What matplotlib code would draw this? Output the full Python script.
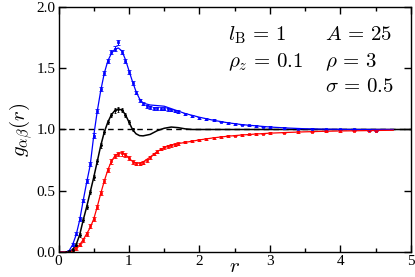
import numpy as np
import matplotlib.pyplot as plt

plt.rcParams['font.family'] = 'Liberation Serif'
plt.rcParams['mathtext.fontset'] = 'cm'

# theory curves (r, g)
r_th = [0.0, 0.1, 0.15, 0.2, 0.25, 0.3, 0.35, 0.4, 0.45, 0.5, 0.55, 0.6, 0.65, 0.7, 0.75,
        0.8, 0.85, 0.9, 0.95, 1.0, 1.05, 1.1, 1.15, 1.2, 1.3, 1.4, 1.5, 1.6, 1.7, 1.8,
        1.9, 2.0, 2.2, 2.4, 2.6, 2.8, 3.0, 3.25, 3.5, 3.75, 4.0, 4.25, 4.5, 4.75]
g_blue = [0.0, 0.0, 0.01, 0.06, 0.14, 0.26, 0.42, 0.57, 0.71, 0.95, 1.15, 1.32, 1.46, 1.56, 1.62,
          1.655, 1.665, 1.64, 1.57, 1.48, 1.39, 1.31, 1.25, 1.215, 1.2, 1.195, 1.19, 1.17, 1.15, 1.13,
          1.115, 1.10, 1.075, 1.055, 1.04, 1.03, 1.02, 1.012, 1.006, 1.003, 1.001, 1.0, 1.0, 1.0]
g_red = [0.0, 0.0, 0.0, 0.01, 0.03, 0.06, 0.10, 0.15, 0.20, 0.27, 0.37, 0.48, 0.58, 0.67, 0.74,
         0.785, 0.805, 0.81, 0.795, 0.765, 0.74, 0.727, 0.725, 0.735, 0.775, 0.82, 0.853, 0.87, 0.885, 0.895,
         0.905, 0.915, 0.932, 0.945, 0.955, 0.963, 0.97, 0.976, 0.981, 0.985, 0.988, 0.99, 0.992, 0.994]
r_blk = [0.0, 0.1, 0.15, 0.2, 0.25, 0.3, 0.35, 0.4, 0.45, 0.5, 0.55, 0.6, 0.65, 0.7, 0.75,
         0.8, 0.85, 0.9, 0.95, 1.0, 1.05, 1.1, 1.15, 1.2, 1.3, 1.4, 1.5, 1.6, 1.7, 1.8,
         1.9, 2.0, 2.5, 3.0, 4.0, 5.0]
g_blk = [0.0, 0.0, 0.005, 0.02, 0.06, 0.14, 0.26, 0.37, 0.49, 0.61, 0.74, 0.87, 0.98, 1.06, 1.12,
         1.155, 1.165, 1.16, 1.12, 1.06, 1.0, 0.965, 0.95, 0.948, 0.96, 0.99, 1.01, 1.02, 1.015, 1.005,
         1.0, 1.0, 1.0, 1.0, 1.0, 1.0]

# simulation points
r_sim = [0.1, 0.15, 0.2, 0.25, 0.3, 0.35, 0.4, 0.45, 0.5, 0.55, 0.6, 0.65, 0.7, 0.75, 0.8,
         0.85, 0.9, 0.95, 1.0, 1.05, 1.1, 1.15, 1.2, 1.25, 1.3, 1.35, 1.4, 1.45, 1.5, 1.55,
         1.6, 1.65, 1.7, 1.8, 1.9, 2.0, 2.1, 2.2, 2.3, 2.4, 2.5, 2.6, 2.7, 2.8, 2.9, 3.0,
         3.2, 3.4, 3.6, 3.8, 4.0, 4.2, 4.4, 4.5]
s_blue = [0.0, 0.01, 0.06, 0.15, 0.27, 0.42, 0.58, 0.72, 0.95, 1.15, 1.33, 1.46, 1.56, 1.63, 1.66,
          1.71, 1.63, 1.56, 1.47, 1.38, 1.30, 1.24, 1.21, 1.19, 1.18, 1.175, 1.175, 1.17, 1.17, 1.165,
          1.16, 1.15, 1.145, 1.125, 1.11, 1.095, 1.085, 1.075, 1.065, 1.055, 1.045, 1.04, 1.033, 1.028, 1.024, 1.02,
          1.013, 1.008, 1.005, 1.003, 1.001, 1.0, 0.995, 0.99]
s_red = [0.0, 0.0, 0.01, 0.03, 0.06, 0.10, 0.15, 0.21, 0.27, 0.37, 0.48, 0.58, 0.67, 0.74, 0.785,
         0.80, 0.805, 0.79, 0.765, 0.735, 0.72, 0.72, 0.73, 0.75, 0.775, 0.80, 0.82, 0.84, 0.855, 0.862,
         0.87, 0.877, 0.885, 0.895, 0.905, 0.915, 0.923, 0.932, 0.938, 0.945, 0.95, 0.955, 0.96, 0.963, 0.966, 0.97,
         0.975, 0.98, 0.983, 0.985, 0.987, 0.989, 0.99, 0.99]
s_blk = [0.0, 0.005, 0.02, 0.06, 0.14, 0.26, 0.37, 0.49, 0.61, 0.74, 0.87, 0.98, 1.06, 1.12, 1.155,
         1.165, 1.16, 1.12, 1.06, 1.0, 0.965, 0.95, 0.948, 0.952, 0.96, 0.975, 0.99, 1.0, 1.01, 1.015,
         1.02, 1.02, 1.015, 1.005, 1.0, 1.0, 1.0, 1.0, 1.0, 1.0, 1.0, 1.0, 1.0, 1.0, 1.0, 1.0,
         1.0, 1.0, 1.0, 1.0, 1.0, 1.0, 1.0, 1.0]
err_sim = [0.004, 0.006, 0.01, 0.012, 0.014, 0.015, 0.016, 0.017, 0.018, 0.018, 0.018, 0.018, 0.018, 0.018, 0.018,
           0.02, 0.018, 0.016, 0.015, 0.014, 0.013, 0.012, 0.012, 0.012, 0.012, 0.012, 0.012, 0.011, 0.011, 0.011,
           0.01, 0.01, 0.01, 0.009, 0.009, 0.008, 0.008, 0.008, 0.007, 0.007, 0.007, 0.006, 0.006, 0.006, 0.006, 0.006,
           0.005, 0.005, 0.005, 0.005, 0.005, 0.005, 0.005, 0.005]

fig = plt.figure(figsize=(4.15, 2.77), dpi=100)
ax = fig.add_axes([0.141, 0.09, 0.849, 0.885])

ax.axhline(1.0, color='k', ls='--', lw=1, dashes=(4, 3))
ax.plot(r_blk, g_blk, 'k-', lw=1.1)
ax.plot(r_th, g_blue, color='#0000ff', lw=0.9)
ax.plot(r_th, g_red, color='#ff0000', lw=0.9)

ax.errorbar(r_sim, s_blue, yerr=err_sim, fmt='s', ms=1.6, mfc='none', mec='#0000ff', mew=0.6,
            ecolor='#0000ff', elinewidth=0.7, capsize=1.5, capthick=0.7)
ax.errorbar(r_sim, s_red, yerr=err_sim, fmt='s', ms=1.6, mfc='none', mec='#ff0000', mew=0.6,
            ecolor='#ff0000', elinewidth=0.7, capsize=1.5, capthick=0.7)
ax.errorbar(r_sim[:20], s_blk[:20], yerr=err_sim[:20], fmt='o', ms=1.1, color='k',
            elinewidth=0.6, capsize=1.0, capthick=0.6)

ax.set_xlim(0, 5)
ax.set_ylim(0, 2)
ax.set_xticks([0, 1, 2, 3, 4, 5])
ax.set_xticks(np.arange(0.5, 5, 1), minor=True)
ax.set_yticks([0.0, 0.5, 1.0, 1.5, 2.0])
ax.set_yticklabels(['0.0', '0.5', '1.0', '1.5', '2.0'])
ax.tick_params(which='both', direction='in', top=True, right=True, labelsize=11)
ax.tick_params(which='major', length=5, width=1, pad=2)
ax.tick_params(which='minor', length=3, width=1)
for s in ax.spines.values():
    s.set_linewidth(1)

ax.set_xlabel(r'$r$', fontsize=15, labelpad=-7)
ax.set_ylabel(r'$g_{\alpha\beta}(r)$', fontsize=15, labelpad=1)

fs = 15
ax.text(2.4, 1.77, r'$l_{\mathrm{B}}\,=\,1$', fontsize=fs, va='center')
ax.text(2.4, 1.55, r'$\rho_z\,=\,0.1$', fontsize=fs, va='center')
ax.text(3.78, 1.77, r'$A\,=\,25$', fontsize=fs, va='center')
ax.text(3.78, 1.55, r'$\rho\,=\,3$', fontsize=fs, va='center')
ax.text(3.78, 1.34, r'$\sigma\,=\,0.5$', fontsize=fs, va='center')

fig.savefig('out.png', dpi=100)
